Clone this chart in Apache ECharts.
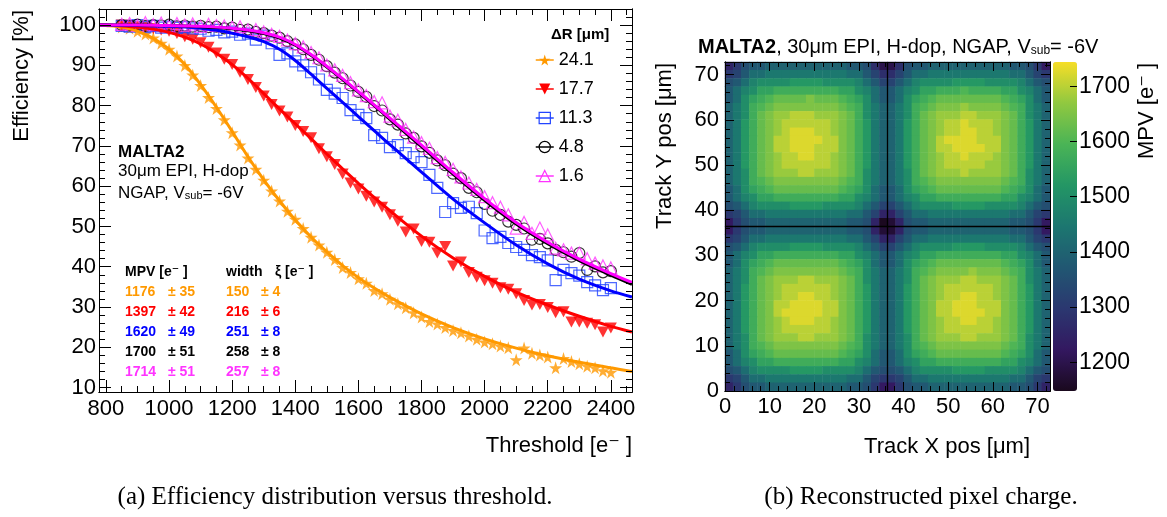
<!DOCTYPE html>
<html>
<head>
<meta charset="utf-8">
<script src="https://cdn.jsdelivr.net/npm/echarts@6/dist/echarts.min.js"></script>
<style>
  html, body { margin: 0; background: #fff; }
  #chart { width: 1167px; height: 517px; }
</style>
</head>
<body>
<div id="chart"></div>
<script>
// ---- (a) efficiency vs threshold ----
const thresholds = [850, 875, 900, 925, 950, 975, 1000, 1025, 1050, 1075, 1100, 1125, 1150, 1175, 1200, 1225,
  1250, 1275, 1300, 1325, 1350, 1375, 1400, 1425, 1450, 1475, 1500, 1525, 1550, 1575, 1600, 1625, 1650, 1675,
  1700, 1725, 1750, 1775, 1800, 1825, 1850, 1875, 1900, 1925, 1950, 1975, 2000, 2025, 2050, 2075, 2100, 2125,
  2150, 2175, 2200, 2225, 2250, 2275, 2300, 2325, 2350, 2375, 2400];

const effR241 = [99.5, 99.2, 98.5, 97.8, 96.8, 95.5, 94.0, 92.3, 90.0, 87.6,
  85.0, 82.0, 79.3, 76.5, 73.3, 70.2, 67.0, 64.2, 61.5, 58.8,
  56.3, 53.8, 51.8, 49.5, 47.3, 45.4, 43.6, 41.8, 39.8, 38.6,
  37.0, 35.9, 34.1, 33.3, 31.9, 30.8, 29.8, 28.6, 27.5, 26.4,
  25.8, 24.9, 24.2, 23.6, 22.8, 22.0, 21.3, 20.9, 20.3, 19.9,
  16.9, 19.8, 18.5, 18.1, 17.6, 14.9, 17.2, 16.5, 15.9, 15.3,
  14.9, 14.2, 13.8];
const effR177 = [100.0, 99.9, 99.6, 99.4, 99.1, 98.8, 98.5, 97.9, 97.1, 96.5,
  95.6, 94.5, 93.1, 91.5, 90.2, 88.3, 86.5, 84.5, 82.4, 80.3,
  78.7, 77.2, 75.1, 73.6, 72.0, 69.3, 67.3, 65.4, 63.0, 60.8,
  59.3, 57.5, 56.1, 54.8, 52.9, 51.3, 48.6, 49.4, 46.3, 46.1,
  43.4, 45.0, 40.2, 41.2, 38.6, 37.4, 36.5, 35.9, 34.8, 34.4,
  33.3, 31.6, 30.5, 30.6, 29.9, 28.6, 28.8, 26.3, 26.3, 26.0,
  25.6, 23.8, 24.8];
const effR113 = [99.8, 99.6, 100.0, 99.5, 99.8, 99.4, 99.6, 99.3, 99.5, 99.2,
  99.1, 98.6, 98.8, 98.2, 98.4, 97.6, 97.9, 96.4, 97.4, 95.5,
  92.6, 93.0, 91.0, 90.0, 88.3, 86.5, 83.9, 83.0, 81.9, 78.9,
  77.7, 76.9, 72.7, 72.0, 69.7, 70.2, 68.2, 67.2, 66.0, 62.8,
  59.6, 53.6, 55.8, 54.6, 54.9, 53.3, 49.0, 47.1, 47.4, 45.9,
  44.9, 44.2, 42.9, 42.4, 41.6, 36.7, 39.2, 38.4, 37.8, 36.2,
  35.4, 34.2, 34.7];
const effR48 = [100.0, 99.9, 100.1, 99.8, 100.0, 99.9, 100.1, 99.7, 99.9, 99.6,
  99.8, 99.5, 99.6, 99.2, 99.4, 98.8, 98.9, 98.3, 98.0, 97.4,
  96.9, 96.0, 95.2, 94.0, 92.6, 91.4, 89.8, 88.2, 86.8, 85.0,
  83.4, 82.2, 79.9, 78.8, 76.6, 75.3, 73.1, 72.0, 69.9, 68.3,
  66.4, 65.2, 63.1, 62.0, 59.6, 58.5, 55.6, 53.9, 52.9, 51.2,
  50.4, 49.5, 46.7, 46.9, 45.8, 44.2, 43.6, 42.5, 43.4, 39.2,
  40.1, 38.6, 38.9];
const effR16 = [100.2, 100.4, 99.9, 100.6, 100.1, 100.5, 99.8, 100.4, 100.0, 100.3,
  99.7, 100.2, 99.9, 99.8, 99.5, 99.6, 98.8, 98.9, 98.3, 97.7,
  97.2, 96.3, 95.4, 94.6, 93.2, 91.9, 90.1, 88.9, 87.5, 85.7,
  83.9, 82.5, 81.0, 80.7, 77.4, 76.4, 74.1, 72.2, 70.8, 69.4,
  67.1, 65.9, 64.2, 62.3, 60.8, 59.2, 57.4, 55.9, 54.8, 52.9,
  49.6, 51.0, 48.3, 49.6, 47.9, 44.6, 44.2, 43.4, 43.4, 42.0,
  40.9, 40.2, 39.7];

// fitted curves
const fitThr = [778, 800, 850, 900, 950, 1000, 1050, 1100, 1150, 1200, 1250, 1300, 1350, 1400,
  1450, 1500, 1550, 1600, 1650, 1700, 1800, 1900, 2000, 2100, 2200, 2300, 2400, 2467];
const fitR241 = [100, 99.9, 99.5, 98.5, 96.7, 94.0, 90.2, 85.2, 79.6, 73.6, 67.3, 61.6, 56.4, 51.6,
  47.4, 43.7, 40.3, 37.3, 34.7, 32.4, 28.3, 24.9, 22.1, 19.8, 17.9, 16.3, 14.9, 14.0];
const fitR177 = [100, 100, 99.8, 99.5, 99.0, 98.2, 97.0, 95.3, 93.0, 90.2, 86.8, 83.0, 79.2, 75.5,
  71.8, 68.0, 64.3, 60.7, 57.2, 53.9, 47.6, 42.2, 37.6, 33.7, 30.5, 27.7, 25.2, 23.8];
const fitR113 = [100, 100, 99.9, 99.9, 99.8, 99.7, 99.5, 99.2, 98.7, 98.0, 97.1, 95.9, 94.0, 91.2,
  87.8, 84.3, 80.8, 77.3, 73.8, 70.3, 63.5, 56.8, 50.9, 45.4, 40.7, 36.9, 34.0, 32.5];
const fitR48 = [100, 100, 100, 100, 99.95, 99.9, 99.8, 99.6, 99.4, 99.1, 98.6, 97.9, 96.8, 95.0,
  92.5, 89.6, 86.5, 83.3, 80.0, 76.6, 69.8, 63.0, 56.5, 50.6, 45.7, 41.5, 37.9, 35.6];
const fitR16 = [100, 100, 100, 100, 99.95, 99.9, 99.8, 99.7, 99.5, 99.2, 98.8, 98.1, 97.0, 95.2,
  92.7, 89.8, 86.7, 83.5, 80.2, 76.9, 70.2, 63.4, 56.9, 51.0, 46.1, 41.9, 38.3, 36.1];

const deltaR = ['24.1', '17.7', '11.3', '4.8', '1.6'];
const mpvFit = [1176, 1397, 1620, 1700, 1714];
const mpvErr = [35, 42, 49, 51, 51];
const xiFit = [150, 216, 251, 258, 257];
const xiErr = [4, 6, 8, 8, 8];

const thrTicks = [800, 1000, 1200, 1400, 1600, 1800, 2000, 2200, 2400];
const effTicks = [10, 20, 30, 40, 50, 60, 70, 80, 90, 100];

// ---- (b) reconstructed pixel charge, 40x40 bins, top row first ----
const mpvLevels = [1150, 1175, 1200, 1225, 1250, 1275, 1300, 1325, 1350, 1375, 1400, 1425, 1450,
  1475, 1500, 1525, 1550, 1575, 1600, 1625, 1650, 1675, 1700, 1725, 1750];
const levelCodes = '0123456789ABCDEFGHIJKLMNO';
const mpvRows = [
  '46899AAAAAAAAAA9985225899AAAAAAAAAA99863',
  '679BBCCCCCCCCCCBB975579BBCCCCCCCCCCBB976',
  '89BDEEEEFFFFEEEEDB9779BDEEEEFFFFEEEEDB98',
  '9BDEGGHHHHHHHHGGEDB99BDEGGHHHIHHHHGGEDB9',
  '9BEGHIJJJJKJJJIHGEB99BEGHIJJJJJJJJIHGEB9',
  'ACEHIJKKKKKKKKJIHECAACEHIJKKKLKKKKJIHECA',
  'ACEHJKLLMMMLLLKJHECAACEHJKLLLMMLLLKJHECA',
  'ACFHJKLMMMMMMLKJHFCAACFHJKLMMNMMMLKJHFCA',
  'ACFHJKLMNNNMMLKJHFCAACFHJKLMMNNMMLKJHFCA',
  'ACFHJKMMNNNNMMKJHFCAACFHJKMNNNNMMMKJHFCA',
  'ACFHJKMMNNNMMMKJHFCAACFHJKMMNNNNMMKJHFCA',
  'ACFHJKLMMNNMMLKJHFCAACFHJKLMMNMMMLKJHFCA',
  'ACFHJKLMMMMMMLKJHFCAACFHJKLMMMMMLLKJHFCA',
  'ACEHJKLLLMMLLLKJHECAACEHJKLLLMLLLLKJHECA',
  'ACEHIJKKKKKKKKJIHECAACEHIJKKKKKKKKJIHECA',
  '9BEGHIJJJJJJJJIHGEB99BEGHIJJJJJJJJIHGEB9',
  '9BDEGGHHHHHHHHGGEDB99BDEGGHHHHHHHHGGEDB9',
  '89BDEEEEFFFFEEEEDB9779BDEEEEFFFFEEEEDB98',
  '679BBCCCCCCCCCCBB974479BBCCCCCCCCCCBB976',
  '36899AAAAAAAAAA9984014899AAAAAAAAAA99863',
  '36899AAAAAAAAAA9984114899AAAAAAAAAA99863',
  '679BBCCCCCCCCCCBB974479BBCCCCCCCCCCBB976',
  '89BDEEEEFFFFEEEEDB9779BDEEEEFFFFEEEEDB98',
  '9BDEGGHHHHHHHHGGEDB99BDEGGHHHHHHHHGGEDB9',
  '9BEGHIJJJJJJJJIHGEB99BEGHIJJJJJJJJIHGEB9',
  'ACEHIJKKKKKKKKJIHECAACEHIJKKKKLKKKJIHECA',
  'ACEHJKLLLMMLLLKJHECAACEHJKLLLMMLLLKJHECA',
  'ACFHJKLMMMMMMLKJHFCAACFHJKLMMMMMMLKJHFCA',
  'ACFHJKLMMNNMMLKJHFCAACFHJKLMMNNMMLKJHFCA',
  'ACFHJKMMNNNNMMKJHFCAACFHJKMMNNNMMMKJHFCA',
  'ACFHJKMNNNNNMMKJHFCAACFHJKMMNNNNMMKJHFCA',
  'ACFHJKLMNNNMMLKJHFCAACFHJKLMMNNMMLKJHFCA',
  'ACFHJKLMMMMMMLKJHFCAACFHJKLMMMMMMLKJHFCA',
  'ACEHJKLLLMMLLLKJHECAACEHJKLLLMMLLLKJHECA',
  'ACEHIJKKKKKKKKJIHECAACEHIJKKKKKKKKJIHECA',
  '9BEGHIJJJJJJJJIHGEB99BEGHIJJJJJJJJIHGEB9',
  '9BDEGGHHHHHHHHGGEDB99BDEGGHHHHHHHHGGEDB9',
  '89BDEEEEFFFFEEEEDB9889BDEEEEFFFFEEEEDB98',
  '679BBCCCCCCCCCCBB976679BBCCCCCCCCCCBB976',
  '46899AAAAAAAAAA9986336899AAAAAAAAAA99864'
];
const posMax = 72.8;
const pixelPitch = 36.4;
const posTicks = [0, 10, 20, 30, 40, 50, 60, 70];
const mpvTicks = [1200, 1300, 1400, 1500, 1600, 1700];

const FONT = "'Liberation Sans', Arial, 'DejaVu Sans', sans-serif";
const rootViridis = ['#1a091e', '#331860', '#2b3770', '#215772', '#1c7670', '#239665', '#4ab456', '#90c840', '#f6de27'];
const STAR = 'path://M50,0L61,35L98,35L68,57L79,91L50,70L21,91L32,57L2,35L39,35Z';

const effPoints = [effR241, effR177, effR113, effR48, effR16];
const effFits = [fitR241, fitR177, fitR113, fitR48, fitR16];
const textColors = ['#ff9900', '#ff0000', '#0000ff', '#000000', '#ff33ff'];
const markers = [
  { symbol: STAR, size: 13, rotate: 0, fill: '#ff9900', stroke: '#ff9900', line: '#ff9900' },
  { symbol: 'triangle', size: [12, 11], rotate: 180, fill: '#ff0000', stroke: '#ff0000', line: '#ff0000' },
  { symbol: 'rect', size: 11, rotate: 0, fill: 'rgba(0,0,0,0)', stroke: '#2244ff', line: '#0000ff' },
  { symbol: 'circle', size: 11, rotate: 0, fill: 'rgba(0,0,0,0)', stroke: '#000000', line: '#000000' },
  { symbol: 'triangle', size: 12, rotate: 0, fill: 'rgba(0,0,0,0)', stroke: '#ff33ff', line: '#ff00ff' }
];

// axis with inward ticks only (ROOT style frame)
function frameAxis(gridIndex, position, min, max, ticks, tickLen, labels, labelSize, margin) {
  return {
    type: 'value', gridIndex: gridIndex, position: position, min: min, max: max, z: 10,
    axisLine: { show: true, onZero: false, lineStyle: { color: '#000', width: 1 } },
    axisTick: { show: true, inside: true, length: tickLen, customValues: ticks, lineStyle: { color: '#000', width: 1 } },
    axisLabel: labels
      ? { show: true, customValues: labels, fontSize: labelSize, color: '#000', margin: margin, fontFamily: FONT,
          formatter: (v) => String(v) }
      : { show: false },
    splitLine: { show: false }
  };
}

function steps(from, to, step) {
  const out = [];
  for (let v = from; v <= to + 1e-9; v += step) out.push(Math.round(v * 10) / 10);
  return out;
}

const thrMinor = steps(800, 2450, 50);
const effMinor = steps(10, 102, 2);
const posMinor = steps(0, 72, 2);

const xAxes = [
  frameAxis(0, 'bottom', 778, 2467, thrTicks, 12, thrTicks, 22, 6),
  frameAxis(0, 'bottom', 778, 2467, thrMinor, 6),
  frameAxis(0, 'top', 778, 2467, thrTicks, 12),
  frameAxis(0, 'top', 778, 2467, thrMinor, 6),
  { type: 'category', gridIndex: 1, data: mpvRows[0].split('').map((c, i) => i), show: false },
  frameAxis(1, 'bottom', 0, posMax, posTicks, 9, posTicks, 22, 5),
  frameAxis(1, 'bottom', 0, posMax, posMinor, 5),
  frameAxis(1, 'top', 0, posMax, posTicks, 9),
  frameAxis(1, 'top', 0, posMax, posMinor, 5),
  { type: 'value', gridIndex: 2, min: 0, max: 1, show: false }
];
const yAxes = [
  frameAxis(0, 'left', 8.9, 104, effTicks, 12, effTicks, 22, 3),
  frameAxis(0, 'left', 8.9, 104, effMinor, 6),
  frameAxis(0, 'right', 8.9, 104, effTicks, 12),
  frameAxis(0, 'right', 8.9, 104, effMinor, 6),
  { type: 'category', gridIndex: 1, data: mpvRows.map((r, i) => i), show: false },
  frameAxis(1, 'left', 0, posMax, posTicks, 9, posTicks, 22, 6),
  frameAxis(1, 'left', 0, posMax, posMinor, 5),
  frameAxis(1, 'right', 0, posMax, posTicks, 9),
  frameAxis(1, 'right', 0, posMax, posMinor, 5),
  Object.assign(frameAxis(2, 'right', 1148, 1744, mpvTicks, 7, mpvTicks, 23, 2), { axisLine: { show: false, onZero: false } })
];

const series = [];
effPoints.forEach((pts, i) => {
  const m = markers[i];
  series.push({
    type: 'scatter', name: 'pts' + deltaR[i], xAxisIndex: 0, yAxisIndex: 0, silent: true, z: 3,
    data: thresholds.map((t, k) => [t, pts[k]]),
    symbol: m.symbol, symbolSize: m.size, symbolRotate: m.rotate,
    itemStyle: { color: m.fill, borderColor: m.stroke, borderWidth: m.fill.indexOf('rgba') === 0 ? 1.2 : 0 }
  });
});
effFits.forEach((fit, i) => {
  const m = markers[i];
  series.push({
    type: 'line', name: deltaR[i], xAxisIndex: 0, yAxisIndex: 0, silent: true, z: 4,
    data: fitThr.map((t, k) => [t, fit[k]]),
    smooth: 0.3, showSymbol: false, symbol: m.symbol, symbolRotate: m.rotate,
    lineStyle: { color: m.line, width: 3 },
    itemStyle: { color: m.fill, borderColor: m.stroke }
  });
});

const heatData = [];
mpvRows.forEach((row, r) => {
  const yBin = mpvRows.length - 1 - r;
  row.split('').forEach((c, x) => {
    heatData.push([x, yBin, mpvLevels[levelCodes.indexOf(c)]]);
  });
});
const heatIndex = series.length;
series.push({
  type: 'heatmap', xAxisIndex: 4, yAxisIndex: 4, data: heatData, silent: true,
  itemStyle: { borderWidth: 0 }, emphasis: { disabled: true }, progressive: 0
});
series.push({
  type: 'line', xAxisIndex: 5, yAxisIndex: 5, data: [], silent: true, z: 6,
  markLine: {
    silent: true, symbol: 'none', label: { show: false },
    lineStyle: { color: '#000', width: 1.3, type: 'solid' },
    data: [{ xAxis: pixelPitch }, { yAxis: pixelPitch }]
  }
});

// texts
const txt = (x, y, text, size, extra) => ({
  type: 'text', x: x, y: y, silent: true,
  style: Object.assign({ text: text, fill: '#000', fontSize: size, fontFamily: FONT, verticalAlign: 'middle' }, extra || {})
});
const SERIF = "'Liberation Serif', 'Times New Roman', serif";
const texts = [
  Object.assign(txt(22, 10, 'Efficiency [%]', 22, { align: 'right' }), { rotation: Math.PI / 2 }),
  txt(632, 446, 'Threshold [e\u207B ]', 22, { align: 'right' }),
  txt(118, 152, 'MALTA2', 17, { fontWeight: 'bold' }),
  txt(118, 171, '30\u03BCm EPI, H-dop', 17),
  txt(118, 193, 'NGAP, V{s|sub}= -6V', 17, { rich: { s: { fontSize: 11, fontFamily: FONT, verticalAlign: 'bottom' } } }),
  txt(125, 272, 'MPV [e\u207B ]', 14, { fontWeight: 'bold' }),
  txt(226, 272, 'width', 14, { fontWeight: 'bold' }),
  txt(275, 272, '\u03BE [e\u207B ]', 14, { fontWeight: 'bold' }),
  txt(551, 35, '\u0394R [\u03BCm]', 15, { fontWeight: 'bold' }),
  txt(698, 47, '{b|MALTA2}, 30\u03BCm EPI, H-dop, NGAP, V{s|sub}= -6V', 20, {
    rich: {
      b: { fontSize: 20, fontWeight: 'bold', fontFamily: FONT },
      s: { fontSize: 12, fontFamily: FONT, verticalAlign: 'bottom' }
    }
  }),
  Object.assign(txt(665, 63, 'Track Y pos [\u03BCm]', 22, { align: 'right' }), { rotation: Math.PI / 2 }),
  txt(1030, 447, 'Track X pos [\u03BCm]', 22, { align: 'right' }),
  Object.assign(txt(1147, 63, 'MPV [e\u207B ]', 22, { align: 'right' }), { rotation: Math.PI / 2 }),
  txt(335, 497, '(a) Efficiency distribution versus threshold.', 25, { align: 'center', fontFamily: SERIF }),
  txt(921, 497, '(b) Reconstructed pixel charge.', 25, { align: 'center', fontFamily: SERIF })
];
deltaR.forEach((d, i) => {
  const y = 292 + i * 20;
  const st = { fontWeight: 'bold', fill: textColors[i] };
  texts.push(txt(125, y, String(mpvFit[i]), 14, st));
  texts.push(txt(168, y, '\u00B1 ' + mpvErr[i], 14, st));
  texts.push(txt(226, y, String(xiFit[i]), 14, st));
  texts.push(txt(261, y, '\u00B1 ' + xiErr[i], 14, st));
});

const option = {
  animation: false,
  backgroundColor: '#fff',
  textStyle: { fontFamily: FONT },
  grid: [
    { left: 99, top: 9, width: 533, height: 383 },
    { left: 725, top: 62, width: 325, height: 329 },
    { left: 1053, top: 62, width: 24, height: 329 }
  ],
  xAxis: xAxes,
  yAxis: yAxes,
  legend: {
    left: 535, top: 51, orient: 'vertical', padding: 0,
    itemWidth: 18, itemHeight: 14, itemGap: 11, selectedMode: false,
    textStyle: { fontSize: 18, color: '#000', fontFamily: FONT },
    data: deltaR.map((d, i) => ({
      name: d,
      itemStyle: {
        color: markers[i].fill, borderColor: markers[i].stroke,
        borderWidth: markers[i].fill.indexOf('rgba') === 0 ? 1.2 : 0
      },
      lineStyle: { color: markers[i].stroke, width: 1.5 }
    }))
  },
  visualMap: {
    type: 'continuous', seriesIndex: heatIndex, min: 1148, max: 1744,
    calculable: false, hoverLink: false, padding: 0,
    left: 1053, top: 62, itemWidth: 24, itemHeight: 329,
    inRange: { color: rootViridis }
  },
  graphic: { elements: texts },
  series: series
};

const chart = echarts.init(document.getElementById('chart'), null, { renderer: 'canvas' });
chart.setOption(option);
</script>
</body>
</html>
